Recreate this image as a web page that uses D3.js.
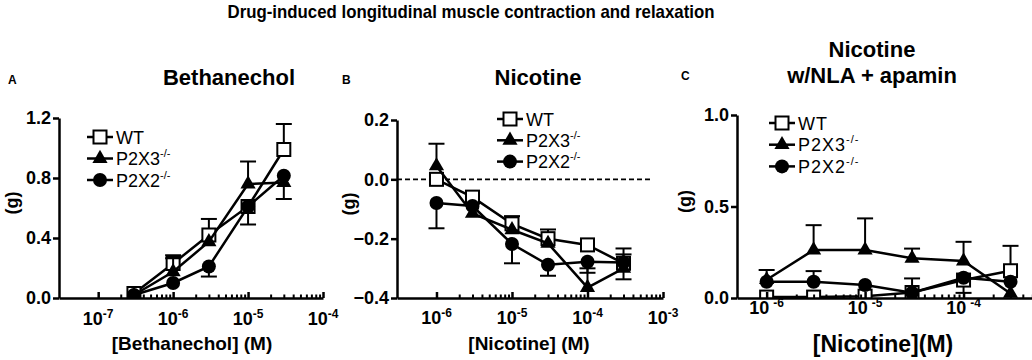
<!DOCTYPE html>
<html>
<head>
<meta charset="utf-8">
<script src="https://cdn.jsdelivr.net/npm/d3@7"></script>
<style>
  body { margin: 0; background: #fff; }
  svg { display: block; font-family: "Liberation Sans", Arial, sans-serif; }
</style>
</head>
<body>
<svg id="chart" width="1032" height="360"></svg>
<script>
// ---- data ----
const seriesNames = ['WT', 'P2X3', 'P2X2'];

// A: bethanechol
const concA = [3e-7, 1e-6, 3e-6, 1e-5, 3e-5];
const wtA = [0.03, 0.23, 0.42, 0.61, 0.99];
const wtAUp = [0, 0.055, 0.107, 0, 0.17];
const wtADown = [0, 0, 0, 0.12, 0];
const p2x3A = [0.02, 0.175, 0.375, 0.76, 0.77];
const p2x3AUp = [0, 0.09, 0, 0.15, 0];
const p2x3ADown = [0, 0, 0, 0, 0.11];
const p2x2A = [0.02, 0.10, 0.21, 0.61, 0.815];
const p2x2AUp = [0, 0, 0, 0, 0];
const p2x2ADown = [0, 0, 0.067, 0, 0];

// B: nicotine
const concB = [1e-6, 3e-6, 1e-5, 3e-5, 1e-4, 3e-4];
const wtB = [0.0, -0.06, -0.15, -0.2, -0.221, -0.283];
const wtBUp = [0, 0, 0.026, 0.031, 0, 0.03];
const wtBDown = [0, 0, 0, 0, 0, 0];
const p2x3B = [0.045, -0.115, -0.17, -0.216, -0.365, -0.3];
const p2x3BUp = [0.075, 0, 0, 0, 0.065, 0];
const p2x3BDown = [0, 0, 0, 0, 0, 0.037];
const p2x2B = [-0.08, -0.09, -0.218, -0.288, -0.278, -0.28];
const p2x2BUp = [0, 0, 0, 0, 0, 0.047];
const p2x2BDown = [0.085, 0, 0.065, 0.037, 0.037, 0];

// C: nicotine with NLA + apamin
const concC = [1e-6, 3e-6, 1e-5, 3e-5, 1e-4, 3e-4];
const wtC = [0.005, 0.005, 0.01, 0.03, 0.098, 0.149];
const wtCUp = [0, 0, 0, 0, 0, 0.136];
const wtCDown = [0, 0, 0, 0, 0.07, 0];
const p2x3C = [0.1, 0.262, 0.262, 0.217, 0.202, 0.025];
const p2x3CUp = [0.053, 0.136, 0.173, 0.053, 0.105, 0];
const p2x3CDown = [0, 0, 0, 0, 0, 0];
const p2x2C = [0.089, 0.089, 0.071, 0.029, 0.111, 0.089];
const p2x2CUp = [0, 0.058, 0, 0.078, 0, 0];
const p2x2CDown = [0, 0, 0, 0, 0, 0];

const yTicksA = [0, 0.4, 0.8, 1.2];
const yTicksB = [-0.4, -0.2, 0.0, 0.2];
const yTicksC = [0, 0.5, 1.0];
const decadesA = [-7, -6, -5, -4];
const decadesB = [-6, -5, -4, -3];
const decadesC = [-6, -5, -4, -3];
const tickLabelsA = ['-7', '-6', '-5', '-4'];
const tickLabelsB = ['-6', '-5', '-4', '-3'];
const tickLabelsC = ['-6', '-5', '-4'];

const mkSeries = (conc, vals, up, down) => [
  { name: seriesNames[0], shape: 'square', pts: conc.map((c, i) => ({ c, v: vals[0][i], up: up[0][i], down: down[0][i] })) },
  { name: seriesNames[1], shape: 'triangle', pts: conc.map((c, i) => ({ c, v: vals[1][i], up: up[1][i], down: down[1][i] })) },
  { name: seriesNames[2], shape: 'circle', pts: conc.map((c, i) => ({ c, v: vals[2][i], up: up[2][i], down: down[2][i] })) }
];

const panels = [
  {
    letter: 'A', letterX: 8, letterY: 84,
    title: ['Bethanechol'], titleX: 229, titleY: [85],
    xRange: [59, 323], yRange: [298, 118],
    xDomain: [3e-8, 1e-4], yDomain: [0, 1.2],
    yTicks: yTicksA, decades: decadesA, tickLabels: tickLabelsA, supGap: 0,
    series: mkSeries(concA, [wtA, p2x3A, p2x2A], [wtAUp, p2x3AUp, p2x2AUp], [wtADown, p2x3ADown, p2x2ADown]),
    legend: { x: 87, y: 137, dy: 21.5, spacing: 0 },
    xLabel: '[Bethanechol] (M)', xLabelX: 192, xLabelY: 350, xLabelSize: 19,
    yLabelX: 12, tickLabelY: 325
  },
  {
    letter: 'B', letterX: 342, letterY: 84,
    title: ['Nicotine'], titleX: 538, titleY: [85],
    xRange: [397, 663], yRange: [298, 120],
    xDomain: [3e-7, 1e-3], yDomain: [-0.4, 0.2],
    yTicks: yTicksB, decades: decadesB, tickLabels: tickLabelsB, supGap: 0,
    series: mkSeries(concB, [wtB, p2x3B, p2x2B], [wtBUp, p2x3BUp, p2x2BUp], [wtBDown, p2x3BDown, p2x2BDown]),
    legend: { x: 497, y: 119, dy: 21.3, spacing: 0 },
    xLabel: '[Nicotine] (M)', xLabelX: 529, xLabelY: 350, xLabelSize: 19,
    yLabelX: 349, tickLabelY: 324, zeroLine: 650
  },
  {
    letter: 'C', letterX: 681, letterY: 80,
    title: ['Nicotine', 'w/NLA + apamin'], titleX: 872, titleY: [57, 83],
    xRange: [737, 1062], yRange: [298, 115],
    xDomain: [5e-7, 1e-3], yDomain: [0, 1.0],
    yTicks: yTicksC, decades: decadesC, tickLabels: tickLabelsC, supGap: 4,
    series: mkSeries(concC, [wtC, p2x3C, p2x2C], [wtCUp, p2x3CUp, p2x2CUp], [wtCDown, p2x3CDown, p2x2CDown]),
    legend: { x: 769, y: 123, dy: 21.7, spacing: 1 },
    xLabel: '[Nicotine](M)', xLabelX: 883, xLabelY: 352, xLabelSize: 23,
    yLabelX: 685, tickLabelY: 314
  }
];

const svg = d3.select('#chart');

svg.append('text')
  .attr('x', 471).attr('y', 18)
  .attr('text-anchor', 'middle')
  .attr('font-size', 19).attr('font-weight', 'bold')
  .attr('textLength', 487).attr('lengthAdjust', 'spacingAndGlyphs')
  .text('Drug-induced longitudinal muscle contraction and relaxation');

function drawMarker (g, shape, cx, cy) {
  if (shape === 'square') {
    g.append('rect')
      .attr('x', cx - 6.5).attr('y', cy - 6.5)
      .attr('width', 13).attr('height', 13)
      .attr('fill', '#fff').attr('stroke', '#000').attr('stroke-width', 2);
  } else if (shape === 'triangle') {
    g.append('path')
      .attr('d', d3.symbol(d3.symbolTriangle, 100)())
      .attr('transform', `translate(${cx},${cy})`)
      .attr('fill', '#000');
  } else {
    g.append('circle')
      .attr('cx', cx).attr('cy', cy).attr('r', 7)
      .attr('fill', '#000');
  }
}

function appendPower (sel, exp, gap) {
  sel.append('tspan').text('10');
  sel.append('tspan')
    .attr('dx', gap).attr('dy', -7)
    .attr('font-size', 12)
    .text(exp);
}

panels.forEach((p, pi) => {
  const g = svg.append('g');
  const x = d3.scaleLog().domain(p.xDomain).range(p.xRange);
  const y = d3.scaleLinear().domain(p.yDomain).range(p.yRange);
  const axisY = p.yRange[0];

  // labels
  g.append('text').attr('x', p.letterX).attr('y', p.letterY)
    .attr('font-size', 12).attr('font-weight', 'bold').text(p.letter);
  p.title.forEach((t, i) => {
    g.append('text').attr('x', p.titleX).attr('y', p.titleY[i])
      .attr('text-anchor', 'middle')
      .attr('font-size', 22).attr('font-weight', 'bold').text(t);
  });

  // clip for the plot content
  const clipId = 'clip' + pi;
  svg.append('defs').append('clipPath').attr('id', clipId)
    .append('rect')
    .attr('x', p.xRange[0] - 20).attr('y', p.yRange[1] - 30)
    .attr('width', p.xRange[1] - p.xRange[0] + 40)
    .attr('height', axisY - p.yRange[1] + 30);

  // dashed zero line
  if (p.zeroLine) {
    g.append('line')
      .attr('x1', p.xRange[0]).attr('x2', p.zeroLine)
      .attr('y1', y(0)).attr('y2', y(0))
      .attr('stroke', '#000').attr('stroke-width', 1.6)
      .attr('stroke-dasharray', '5,3');
  }

  const plot = g.append('g').attr('clip-path', `url(#${clipId})`);
  const line = d3.line().x(d => x(d.c)).y(d => y(d.v));

  p.series.forEach(s => {
    const sg = plot.append('g');
    s.pts.forEach(d => {
      [[d.up, 1], [d.down, -1]].forEach(([e, dir]) => {
        if (!e) return;
        const yEnd = y(d.v + dir * e);
        sg.append('line')
          .attr('x1', x(d.c)).attr('x2', x(d.c))
          .attr('y1', y(d.v)).attr('y2', yEnd)
          .attr('stroke', '#000').attr('stroke-width', 2);
        sg.append('line')
          .attr('x1', x(d.c) - 8).attr('x2', x(d.c) + 8)
          .attr('y1', yEnd).attr('y2', yEnd)
          .attr('stroke', '#000').attr('stroke-width', 2);
      });
    });
    sg.append('path')
      .attr('d', line(s.pts))
      .attr('fill', 'none').attr('stroke', '#000').attr('stroke-width', 2.5);
    s.pts.forEach(d => drawMarker(sg, s.shape, x(d.c), y(d.v)));
  });

  // y axis
  const yAxis = g.append('g')
    .attr('transform', `translate(${p.xRange[0]},0)`)
    .call(d3.axisLeft(y).tickValues(p.yTicks).tickSize(6).tickSizeOuter(0)
      .tickPadding(2).tickFormat(d3.format('.1f')));
  yAxis.selectAll('path, line').attr('stroke', '#000').attr('stroke-width', 2.5);
  yAxis.selectAll('text')
    .attr('font-family', '"Liberation Sans", Arial, sans-serif')
    .attr('font-size', 18).attr('font-weight', 'bold').attr('fill', '#000');

  // x axis: major + minor ticks pointing up
  const majors = p.decades.map(e => Math.pow(10, e));
  const minors = [];
  p.decades.slice(0, -1).forEach(e => {
    for (let k = 2; k <= 9; k++) minors.push(k * Math.pow(10, e));
  });
  const xAxis = g.append('g')
    .attr('transform', `translate(0,${axisY})`)
    .call(d3.axisBottom(x).tickValues(majors).tickSize(-6).tickSizeOuter(0).tickFormat(''));
  xAxis.selectAll('path, line').attr('stroke', '#000').attr('stroke-width', 2.5);
  const xMinor = g.append('g')
    .attr('transform', `translate(0,${axisY})`)
    .call(d3.axisBottom(x).tickValues(minors).tickSize(-3.5).tickFormat(''));
  xMinor.select('.domain').remove();
  xMinor.selectAll('line').attr('stroke', '#000').attr('stroke-width', 2);

  p.tickLabels.forEach((lab, i) => {
    const t = g.append('text')
      .attr('x', x(majors[i])).attr('y', p.tickLabelY)
      .attr('text-anchor', 'middle')
      .attr('font-size', 18).attr('font-weight', 'bold');
    appendPower(t, lab, p.supGap);
  });

  // axis titles
  g.append('text')
    .attr('x', p.xLabelX).attr('y', p.xLabelY)
    .attr('text-anchor', 'middle')
    .attr('font-size', p.xLabelSize).attr('font-weight', 'bold')
    .text(p.xLabel);
  g.append('text')
    .attr('transform', `translate(${p.yLabelX},${(p.yRange[0] + p.yRange[1]) / 2 - 5}) rotate(-90)`)
    .attr('text-anchor', 'middle').attr('dy', '0.35em')
    .attr('font-size', 18).attr('font-weight', 'bold')
    .text('(g)');

  // legend
  const lg = g.append('g');
  p.series.forEach((s, i) => {
    const ly = p.legend.y + i * p.legend.dy;
    const lx = p.legend.x;
    lg.append('line')
      .attr('x1', lx).attr('x2', lx + 26)
      .attr('y1', ly).attr('y2', ly)
      .attr('stroke', '#000').attr('stroke-width', 2.5);
    drawMarker(lg, s.shape, lx + 13, ly);
    const t = lg.append('text')
      .attr('x', lx + 29).attr('y', ly + 6.5)
      .attr('font-size', 18).attr('letter-spacing', p.legend.spacing);
    t.append('tspan').text(s.name);
    if (s.name !== 'WT') {
      t.append('tspan').attr('dy', -8).attr('font-size', 11).text('-/-');
    }
  });
});
</script>
</body>
</html>
